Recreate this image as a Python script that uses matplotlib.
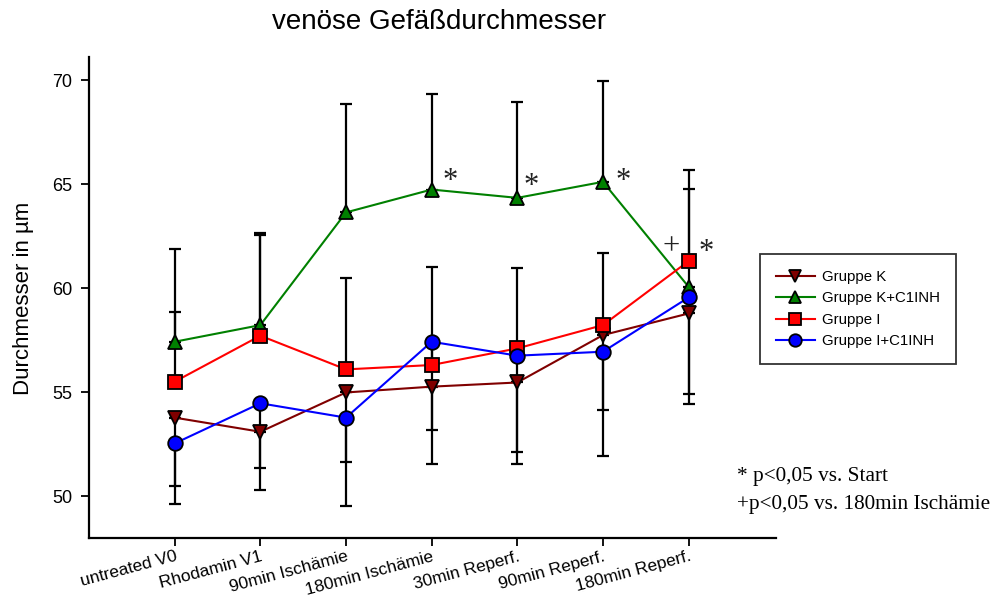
import matplotlib
matplotlib.use("Agg")
import matplotlib.pyplot as plt
import numpy as np

categories = ["untreated V0", "Rhodamin V1", "90min Ischämie", "180min Ischämie",
              "30min Reperf.", "90min Reperf.", "180min Reperf."]

gruppe_k = [53.77, 53.09, 54.98, 55.26, 55.46, 57.74, 58.78]
gruppe_k_err = [3.29, 2.80, 3.36, 3.74, 3.94, 5.82, 4.36]

gruppe_kc = [57.42, 58.22, 63.64, 64.74, 64.34, 65.11, 60.06]
gruppe_kc_err = [4.48, 4.33, 5.21, 4.59, 4.59, 4.86, 5.61]

gruppe_i = [55.50, 57.71, 56.09, 56.30, 57.10, 58.22, 61.30]
gruppe_i_err = [3.33, 4.92, 4.38, 4.73, 3.85, 3.49, 3.49]

gruppe_ic = [52.53, 54.46, 53.77, 57.42, 56.75, 56.94, 59.55]
gruppe_ic_err = [2.93, 3.13, 4.25, 4.25, 4.65, 2.81, 4.65]

yticks = [50, 55, 60, 65, 70]

plt.rcParams['font.family'] = ['Liberation Sans', 'DejaVu Sans']

fig = plt.figure(figsize=(9.96, 5.97), dpi=100)
ax = fig.add_axes([0.0894, 0.0988, 0.6897, 0.8052])

x = np.arange(len(categories))

series = [
    ("Gruppe K", gruppe_k, gruppe_k_err, "#800000", "v", 10, "lower"),
    ("Gruppe K+C1INH", gruppe_kc, gruppe_kc_err, "#008000", "^", 10, "upper"),
    ("Gruppe I", gruppe_i, gruppe_i_err, "#FF0000", "s", 10.5, "upper"),
    ("Gruppe I+C1INH", gruppe_ic, gruppe_ic_err, "#0000FF", "o", 10.5, "lower"),
]

for name, vals, errs, col, mk, ms, side in series:
    errs = np.array(errs)
    zeros = np.zeros_like(errs)
    yerr = [zeros, errs] if side == "upper" else [errs, zeros]
    ax.errorbar(x, vals, yerr=yerr, fmt='none', ecolor='black', elinewidth=1.6,
                capsize=4.3, capthick=1.6, zorder=1)

for i, (name, vals, errs, col, mk, ms, side) in enumerate(series):
    ax.plot(x, vals, color=col, lw=1.5, marker=mk, markersize=ms,
            markerfacecolor=col, markeredgecolor='black', markeredgewidth=1.3,
            label=name, zorder=3 + i)

# significance markers
star_kw = dict(family='Liberation Serif', fontsize=22, ha='center', va='center', color='#222222')
for sx, sy in [(3.21, 65.15), (4.16, 64.9), (5.23, 65.15), (6.21, 61.7)]:
    ax.text(sx, sy, "*", **star_kw)
ax.text(5.80, 62.0, "+", family='Liberation Serif', fontsize=22, ha='center', va='center', color='#222222')

ax.set_xlim(-1.0, 7.02)
ax.set_ylim(47.98, 71.1)
ax.set_yticks(yticks)
ax.set_yticklabels([str(t) for t in yticks], fontsize=13)
ax.set_xticks(x)
ax.set_xticklabels(categories, rotation=15, ha='right', rotation_mode='anchor', fontsize=12.5)
ax.tick_params(axis='both', direction='out', length=6, width=1.3, color='black')
ax.tick_params(axis='y', pad=6)
ax.tick_params(axis='x', pad=2)

for side in ['top', 'right']:
    ax.spines[side].set_visible(False)
for side in ['left', 'bottom']:
    ax.spines[side].set_linewidth(1.6)

fig.text(23 / 996, 1 - 298 / 597, "Durchmesser in µm", fontsize=16, rotation=90,
         ha='center', va='center')

fig.text(0.441, 1 - 22 / 597, "venöse Gefäßdurchmesser", ha='center', va='center', fontsize=20)

leg = ax.legend(loc='upper left', bbox_to_anchor=(0.7631, 0.5745), bbox_transform=fig.transFigure,
                fontsize=10.8, frameon=True, fancybox=False, edgecolor='black',
                borderpad=1.05, handlelength=2.6, labelspacing=0.5, handletextpad=0.5,
                borderaxespad=0)
leg.get_frame().set_linewidth(1.3)
for h in leg.legend_handles:
    h.set_markersize(9)

fig.text(0.740, 1 - 477 / 597, "* p<0,05 vs. Start", family='Liberation Serif', fontsize=15.3, ha='left', va='center')
fig.text(0.740, 1 - 505 / 597, "+p<0,05 vs. 180min Ischämie", family='Liberation Serif', fontsize=15.3, ha='left', va='center')

fig.savefig("out.png", dpi=100)
